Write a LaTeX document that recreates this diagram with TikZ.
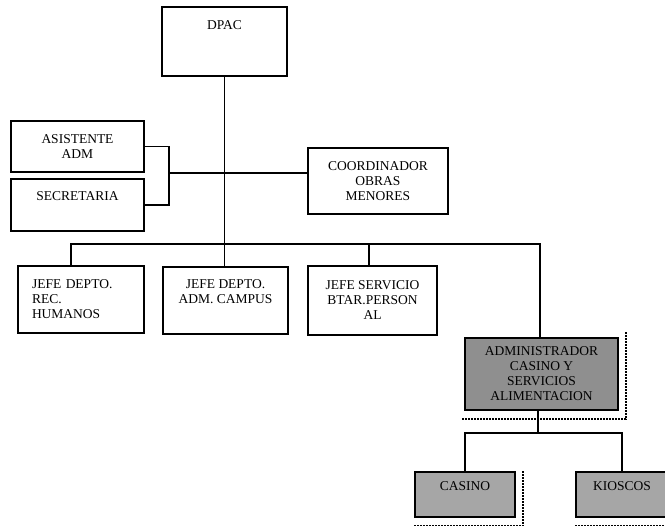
\documentclass[tikz,border=0pt]{standalone}
\usepackage{fontspec}
\setmainfont{Liberation Serif}
\usetikzlibrary{positioning}

\begin{document}
\begin{tikzpicture}[
    x = 1pt, y = -1pt,
    font = \fontsize{13.5}{15}\selectfont,
    unit/.style = {draw, rectangle, line width=1.8pt, inner sep=0pt, align=center},
    dim/.style = {unit, fill=black!44},
    pale/.style = {unit, fill=black!35},
    link/.style = {line width=1.3pt},
    dropline/.style = {line width=1.9pt, dash pattern=on 2pt off 1pt}
  ]
  \useasboundingbox (0,0) rectangle (665,526);
  \clip (0,0) rectangle (665,526);

  % Boxes
  \node[unit, minimum width=125pt, minimum height=69pt, text depth=33pt] (dpac) at (224.5,41.5) {DPAC};
  \node[unit, minimum width=133pt, minimum height=51pt] (asist) at (77.5,146.5) {ASISTENTE\\ADM};
  \node[unit, minimum width=133pt, minimum height=52pt, text depth=18pt] (secre) at (77.5,205) {SECRETARIA};
  \node[unit, minimum width=140pt, minimum height=66pt] (coord) at (378,181) {COORDINADOR\\OBRAS\\MENORES};
  \node[unit, minimum width=126pt, minimum height=67pt, text width=98pt, align=left] (rec) at (81,299.5) {JEFE DEPTO.\\REC.\\HUMANOS};
  \node[unit, minimum width=125pt, minimum height=67pt, text depth=17pt] (campus) at (225.5,300.5) {JEFE DEPTO.\\ADM. CAMPUS};
  \node[unit, minimum width=129pt, minimum height=69pt] (serv) at (372.5,300.5) {JEFE SERVICIO\\BTAR.PERSON\\AL};
  \node[dim, minimum width=153pt, minimum height=72pt] (admin) at (541.5,374) {ADMINISTRADOR\\CASINO Y\\SERVICIOS\\ALIMENTACION};
  \node[pale, minimum width=100pt, minimum height=45pt, text depth=16pt] (casino) at (465,494.5) {CASINO};
  \node[pale, minimum width=92pt, minimum height=45pt, text depth=16pt] (kiosk) at (622,494.5) {KIOSCOS};

  % Shadows
  \draw[dropline] ([xshift=-2pt, yshift=-8pt]admin.south west) -| ([xshift=7pt, yshift=5pt]admin.north east);
  \draw[dropline] ([yshift=-8pt]casino.south west) -| ([xshift=7pt]casino.north east);
  \draw[dropline] ([yshift=-8pt]kiosk.south west) -- ([yshift=-8pt]kiosk.south east);

  % Lines
  \coordinate (brk) at (169,173);
  \coordinate (busL) at (71,244);
  \coordinate (busS) at (369,244);
  \coordinate (busR) at (540,244);
  \coordinate (fork) at (538,433);

  \draw[link] (asist.east) -- (asist.east -| brk) -- (secre.east -| brk) -- (secre.east);
  \draw[link] (brk) -- (brk -| coord.west);
  \draw[link] (dpac.south) -- (dpac.south |- campus.north);
  \draw[link] (busL |- rec.north) -- (busL) -- (busR) -- (busR |- admin.north);
  \draw[link] (busS) -- (busS |- serv.north);
  \draw[link] (fork |- admin.south) -- (fork);
  \draw[link] (casino.north) |- (fork) -| (kiosk.north);
\end{tikzpicture}
\end{document}
